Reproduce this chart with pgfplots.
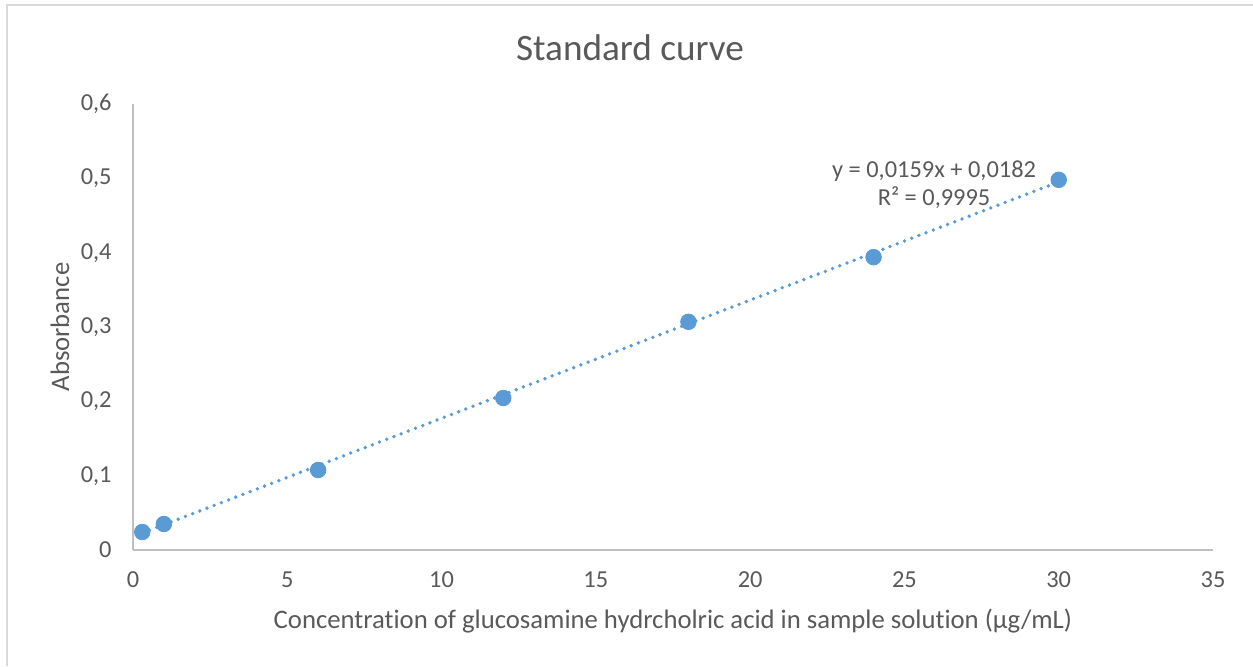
\documentclass[border=0pt]{standalone}
\usepackage{fontspec}
\setmainfont{Carlito}[Ligatures={NoCommon}]
\usepackage{pgfplots}
\pgfplotsset{compat=1.18}
\definecolor{txt}{HTML}{595959}
\definecolor{axgray}{HTML}{BFBFBF}
\definecolor{frame}{HTML}{D9D9D9}
\definecolor{ptblue}{HTML}{5B9BD5}
\begin{document}
\begin{tikzpicture}
  \useasboundingbox (0,0) rectangle (626.5pt,333pt);
  \draw[frame, line width=0.8pt] (3.5pt,0) -- (3.5pt,330.5pt) -- (626.5pt,330.5pt);
  \begin{axis}[
      at={(66.5pt,58pt)}, anchor=south west,
      scale only axis, width=540pt, height=223pt,
      xmin=0, xmax=35, ymin=0, ymax=0.6,
      xtick={0,5,...,35}, ytick={0,0.1,...,0.6},
      axis lines*=left,
      axis line style={draw=axgray, line width=0.9pt, -},
      major tick length=0pt,
      tick label style={font=\fontsize{12.2}{14}\selectfont, text=txt},
      /pgf/number format/.cd, use comma, fixed, precision=1, assume math mode=true,
      /pgfplots/.cd,
      xticklabel style={anchor=center, yshift=-15pt},
      yticklabel style={anchor=east, inner sep=0pt, xshift=-10.5pt},
      clip=false,
    ]
    % linear trendline y = 0,0159x + 0,0182
    \addplot[ptblue, line width=1.9pt, line cap=round, dash pattern=on 0pt off 3.85pt, no marks]
      coordinates {(0.3,0.02297) (30,0.4952)};
    \addplot[only marks, mark=*, mark size=3.9pt, color=ptblue]
      coordinates {(0.3,0.0242) (1,0.035) (6,0.1076) (12,0.2045) (18,0.307) (24,0.394) (30,0.498)};
    \node[align=center, text=txt, font=\fontsize{12.2}{14}\selectfont] at (axis cs:25.96,0.492)
      {y = 0,0159x + 0,0182\\R² = 0,9995};
  \end{axis}
  \node[text=txt, font=\fontsize{18.6}{20}\selectfont] at (315pt,309pt) {Standard curve};
  \node[text=txt, font=\fontsize{13.35}{15}\selectfont] at (336.5pt,22.5pt)
    {Concentration of glucosamine hydrcholric acid in sample solution (µg/mL)};
  \node[text=txt, font=\fontsize{13.35}{15}\selectfont, rotate=90] at (30pt,169.5pt) {Absorbance};
\end{tikzpicture}
\end{document}
